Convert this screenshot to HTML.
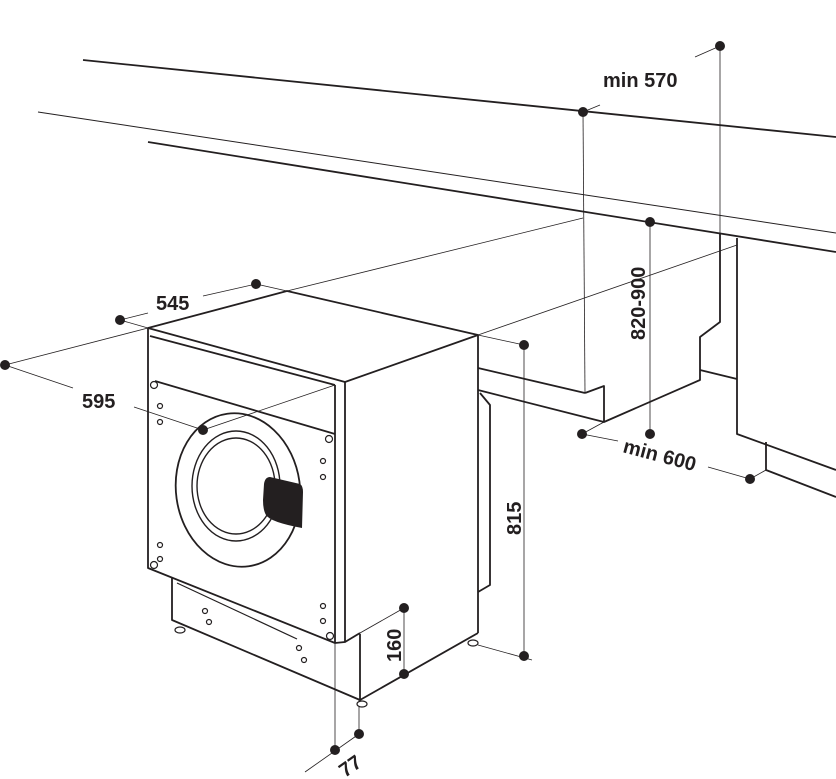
<!DOCTYPE html>
<html><head><meta charset="utf-8"><style>
html,body{margin:0;padding:0;background:#fff;}
svg{display:block;}
text{font-family:"Liberation Sans",Arial,sans-serif;font-weight:bold;font-size:20px;fill:#231f20;}
</style></head><body>
<svg width="836" height="779" viewBox="0 0 836 779" xmlns="http://www.w3.org/2000/svg">
<g stroke="#231f20" fill="none" stroke-linejoin="round">
<line x1="83" y1="60" x2="836" y2="137" stroke-width="1.8"/>
<line x1="38" y1="112" x2="836" y2="233" stroke-width="1"/>
<line x1="148" y1="142" x2="836" y2="252" stroke-width="1.8"/>
<polyline points="585,393 604,386 604,422 700,380 700,337 720,322 720,233" stroke-width="1.8"/>
<line x1="478" y1="368" x2="585" y2="393" stroke-width="1.8"/>
<line x1="478" y1="390" x2="604" y2="422" stroke-width="1.8"/>
<line x1="700" y1="370" x2="737" y2="379" stroke-width="1.8"/>
<polyline points="737,238 737,434 836,470" stroke-width="1.8"/>
<polyline points="766,442 766,470 836,497" stroke-width="1.8"/>
<g stroke-width="0.8">
<line x1="583" y1="112" x2="585" y2="393"/>
<line x1="720" y1="46" x2="720" y2="233"/>
<line x1="287" y1="291" x2="583" y2="218"/>
<line x1="478" y1="335" x2="737" y2="245"/>
<line x1="650" y1="222" x2="650" y2="434"/>
<line x1="582" y1="434" x2="604" y2="422"/>
<line x1="582" y1="434" x2="618" y2="441"/>
<line x1="708" y1="467" x2="750" y2="479"/>
<line x1="750" y1="479" x2="766" y2="470"/>
<line x1="583" y1="112" x2="600" y2="105"/>
<line x1="695" y1="57" x2="720" y2="46"/>
<line x1="524" y1="345" x2="524" y2="656"/>
<line x1="478" y1="335" x2="524" y2="345"/>
<line x1="478" y1="645" x2="532" y2="660"/>
<line x1="120" y1="320" x2="148" y2="328"/>
<line x1="256" y1="284" x2="287" y2="291"/>
<line x1="120" y1="320" x2="148" y2="313"/>
<line x1="203" y1="296" x2="256" y2="284"/>
<line x1="5" y1="365" x2="148" y2="328"/>
<line x1="203" y1="430" x2="335" y2="385"/>
<line x1="5" y1="365" x2="73" y2="388"/>
<line x1="134" y1="407" x2="203" y2="430"/>
<line x1="404" y1="608" x2="404" y2="674"/>
<line x1="360" y1="633" x2="404" y2="608"/>
<line x1="335" y1="643" x2="335" y2="750"/>
<line x1="359" y1="700" x2="359" y2="734"/>
<line x1="305" y1="772" x2="359" y2="734"/>
</g>
<g stroke-width="1.8">
<polygon points="148,328 287,291 478,335 345,382" fill="#fff"/>
<polyline points="148,328 148,568 335,643 345,642 345,382"/>
<polyline points="345,642 360,633"/>
<line x1="478" y1="335" x2="478" y2="633"/>
<line x1="150" y1="336" x2="335" y2="385"/>
<line x1="335" y1="385" x2="335" y2="643"/>
<line x1="155" y1="381" x2="335" y2="434"/>
<polyline points="480,393 490,405 490,585 478,592"/>
<polyline points="172,578 172,620 360,700 478,633"/>
<line x1="360" y1="634" x2="360" y2="700"/>
<line x1="177" y1="583" x2="297" y2="639" stroke-width="1.2"/>
<ellipse cx="238" cy="490" rx="62" ry="77" transform="rotate(-8 238 490)"/>
<ellipse cx="236" cy="486" rx="44" ry="55" stroke-width="1.4"/>
<ellipse cx="236" cy="486" rx="39" ry="48" stroke-width="1.4"/>
</g>
<path d="M270,477 L300,484 Q303,486 303,492 L302,528 Q270,522 266,515 Q263,510 263,500 L264,484 Q265,477 270,477 Z" fill="#231f20" stroke="none"/>
<g stroke-width="1.2" fill="#fff">
<circle cx="154" cy="385" r="3.5"/><circle cx="160" cy="406" r="2.5"/><circle cx="160" cy="422" r="2.5"/>
<circle cx="329" cy="439" r="3.5"/><circle cx="323" cy="461" r="2.5"/><circle cx="323" cy="477" r="2.5"/>
<circle cx="160" cy="545" r="2.5"/><circle cx="160" cy="559" r="2.5"/><circle cx="154" cy="565" r="3.5"/>
<circle cx="323" cy="606" r="2.5"/><circle cx="323" cy="621" r="2.5"/><circle cx="330" cy="636" r="3.5"/>
<circle cx="205" cy="611" r="2.5"/><circle cx="209" cy="622" r="2.5"/><circle cx="299" cy="648" r="2.5"/><circle cx="304" cy="660" r="2.5"/>
<ellipse cx="180" cy="630" rx="5" ry="3"/><ellipse cx="362" cy="704" rx="5" ry="3"/><ellipse cx="473" cy="643" rx="5" ry="3"/>
</g>
</g>
<g fill="#231f20">
<circle cx="583" cy="112" r="5"/><circle cx="720" cy="46" r="5"/>
<circle cx="650" cy="222" r="5"/><circle cx="650" cy="434" r="5"/>
<circle cx="582" cy="434" r="5"/><circle cx="750" cy="479" r="5"/>
<circle cx="524" cy="345" r="5"/><circle cx="524" cy="656" r="5"/>
<circle cx="120" cy="320" r="5"/><circle cx="256" cy="284" r="5"/>
<circle cx="5" cy="365" r="5"/><circle cx="203" cy="430" r="5"/>
<circle cx="404" cy="608" r="5"/><circle cx="404" cy="674" r="5"/>
<circle cx="335" cy="750" r="5"/><circle cx="359" cy="734" r="5"/>
</g>
<text x="603" y="87">min 570</text>
<text x="156" y="310">545</text>
<text x="82" y="408">595</text>
<text transform="translate(645,340) rotate(-90)">820-900</text>
<text transform="translate(622,452) rotate(15)">min 600</text>
<text transform="translate(521,535) rotate(-90)">815</text>
<text transform="translate(401,662) rotate(-90)">160</text>
<text transform="translate(345,778) rotate(-35)">77</text>
</svg>
</body></html>
